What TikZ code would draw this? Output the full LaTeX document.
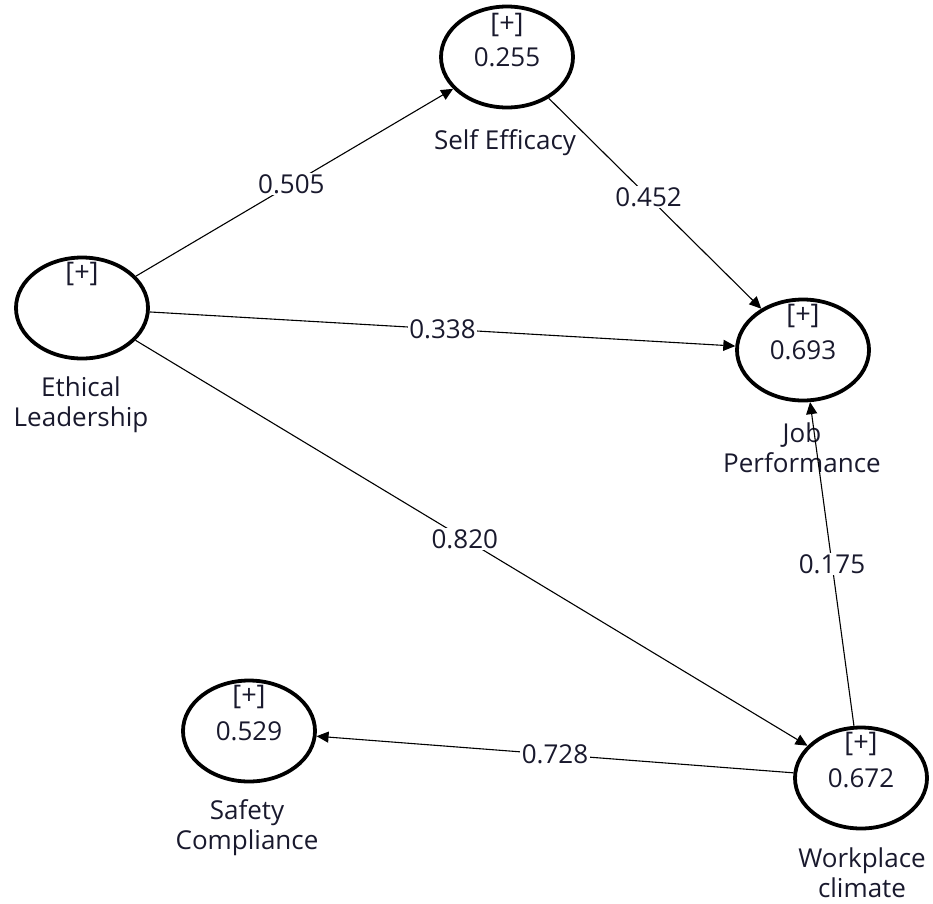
\documentclass[tikz,border=0pt]{standalone}
\usepackage{fontspec}
\setmainfont{Open Sans}
\usetikzlibrary{shapes.geometric,arrows.meta}
\definecolor{txt}{RGB}{25,25,45}
\begin{document}
\begin{tikzpicture}[x=1pt,y=-1pt,
 lv/.style={ellipse,draw,line width=3.8pt,minimum width=132pt,minimum height=101pt,inner sep=0pt,text=txt,font=\fontsize{26}{30}\selectfont},
 plus/.style={text=txt,inner sep=0pt,font=\fontsize{27}{30}\selectfont},
 lvname/.style={align=center,text=txt,font=\fontsize{26}{30}\selectfont},
 conn/.style={draw,line width=1.1pt,-{Triangle[length=12pt,width=11pt]}},
 wt/.style={fill=white,inner sep=1.5pt,text=txt,font=\fontsize{26}{30}\selectfont}]
\useasboundingbox (0,0) rectangle (933,903);
\node[lv] (SE) at (507,57) {0.255};
\node[lv] (EL) at (82,308) {};
\node[lv] (JP) at (803,350) {0.693};
\node[lv] (SC) at (249,731) {0.529};
\node[lv] (WC) at (861,778) {0.672};
\node[plus] (pSE) at (507,25) {[+]};
\node[plus] (pEL) at (82,274) {[+]};
\node[plus] (pJP) at (803,316) {[+]};
\node[plus] (pSC) at (249,697) {[+]};
\node[plus] (pWC) at (861,744) {[+]};
\node[lvname] (nSE) at (505,143) {Self Efficacy};
\node[lvname] (nEL) at (81,405) {Ethical\\Leadership};
\node[lvname] (nJP) at (802,448) {Job\\Performance};
\node[lvname] (nSC) at (247,828) {Safety\\Compliance};
\node[lvname] (nWC) at (862,873) {Workplace\\climate};
\path[conn] (EL) -- node[wt,pos=0.49] (e1) {0.505} (SE);
\path[conn] (SE) -- node[wt,pos=0.47] (e2) {0.452} (JP);
\path[conn] (EL) -- node[wt,pos=0.5] (e3) {0.338} (JP);
\path[conn] (EL) -- node[wt,pos=0.49] (e4) {0.820} (WC);
\path[conn] (WC) -- node[wt,pos=0.5] (e5) {0.175} (JP);
\path[conn] (WC) -- node[wt,pos=0.5] (e6) {0.728} (SC);
\end{tikzpicture}
\end{document}
